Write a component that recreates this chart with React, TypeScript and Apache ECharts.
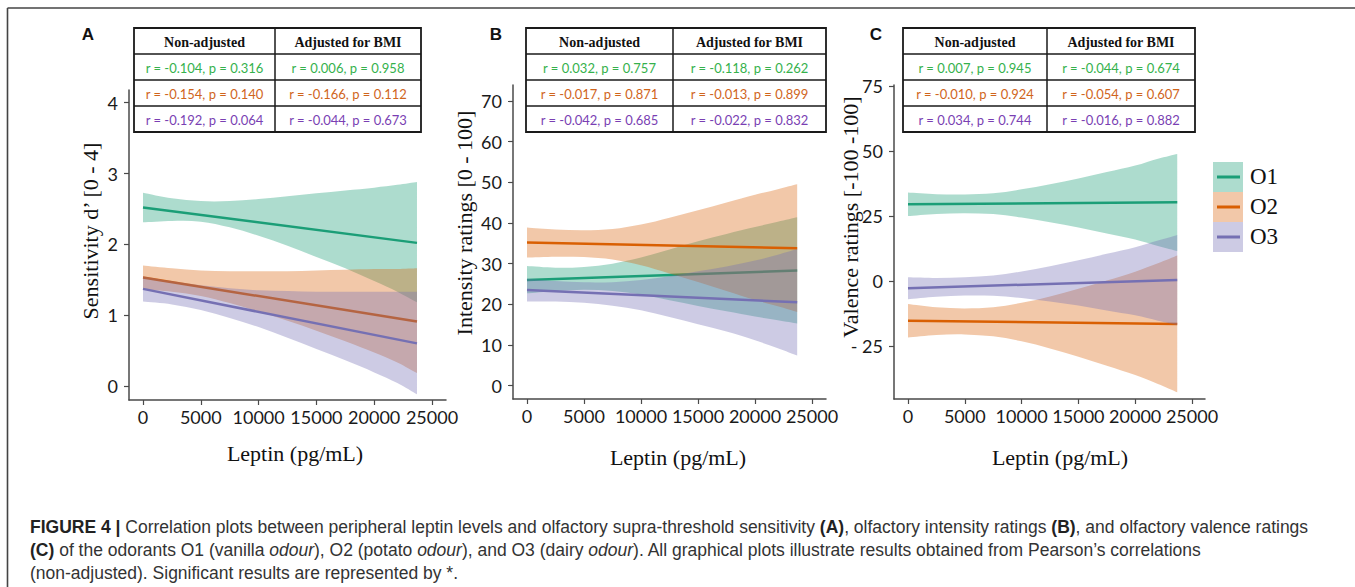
import { useEffect, useRef } from "react";
import * as echarts from "echarts";

// ---------- data ----------
const leptinX = [0, 2500, 5000, 7500, 10000, 12500, 15000, 17500, 20000, 22000, 23700];
const lineX = [0, 23700];
const xTicks = [0, 5000, 10000, 15000, 20000, 25000];

// Panel A – Sensitivity d'
const aO1Line = [2.52, 2.02];
const aO1Upper = [2.73, 2.65, 2.61, 2.61, 2.64, 2.68, 2.72, 2.76, 2.8, 2.84, 2.88];
const aO1Lower = [2.31, 2.33, 2.32, 2.24, 2.12, 1.98, 1.82, 1.66, 1.48, 1.33, 1.18];
const aO2Line = [1.53, 0.91];
const aO2Upper = [1.7, 1.66, 1.63, 1.62, 1.62, 1.62, 1.63, 1.64, 1.65, 1.65, 1.66];
const aO2Lower = [1.36, 1.33, 1.27, 1.17, 1.05, 0.92, 0.78, 0.63, 0.47, 0.33, 0.18];
const aO3Line = [1.37, 0.6];
const aO3Upper = [1.55, 1.48, 1.42, 1.38, 1.35, 1.34, 1.33, 1.33, 1.33, 1.33, 1.33];
const aO3Lower = [1.19, 1.15, 1.07, 0.96, 0.83, 0.68, 0.52, 0.36, 0.19, 0.04, -0.12];
const aYTicks = [0, 1, 2, 3, 4];

// Panel B – Intensity ratings
const bO1Line = [26.0, 28.3];
const bO1Upper = [29.4, 29.0, 29.2, 30.0, 31.5, 33.5, 35.5, 37.3, 39.0, 40.3, 41.4];
const bO1Lower = [22.7, 23.3, 23.6, 23.3, 22.4, 21.0, 19.6, 18.3, 17.0, 16.1, 15.3];
const bO2Line = [35.2, 33.8];
const bO2Upper = [38.9, 38.4, 38.2, 38.5, 39.6, 41.3, 43.1, 45.0, 46.9, 48.3, 49.5];
const bO2Lower = [31.5, 31.7, 31.6, 31.0, 29.6, 27.6, 25.5, 23.3, 21.1, 19.5, 18.1];
const bO3Line = [23.5, 20.5];
const bO3Upper = [26.3, 25.7, 25.4, 25.45, 25.95, 26.9, 28.1, 29.3, 30.75, 32.2, 33.6];
const bO3Lower = [20.7, 20.7, 20.4, 19.65, 18.55, 16.9, 15.1, 13.3, 11.15, 9.2, 7.4];
const bYTicks = [0, 10, 20, 30, 40, 50, 60, 70];

// Panel C – Valence ratings
const cO1Line = [29.5, 30.3];
const cO1Upper = [34.0, 33.4, 33.3, 33.75, 35.25, 37.2, 39.4, 41.9, 44.4, 47.05, 48.9];
const cO1Lower = [25.0, 25.8, 26.1, 25.75, 24.45, 22.6, 20.6, 18.3, 16.0, 13.45, 11.5];
const cO2Line = [-15.3, -16.5];
const cO2Upper = [-8.9, -10.15, -10.55, -10.1, -8.4, -5.95, -2.95, 0.2, 3.6, 6.8, 9.8];
const cO2Lower = [-21.7, -20.75, -20.55, -21.3, -23.2, -25.95, -29.15, -32.6, -36.2, -39.6, -42.8];
const cO3Line = [-2.8, 0.4];
const cO3Upper = [1.4, 1.15, 1.4, 2.1, 3.65, 5.7, 7.95, 10.45, 13.0, 15.55, 17.7];
const cO3Lower = [-7.0, -6.05, -5.6, -5.7, -6.55, -7.9, -9.45, -11.35, -13.2, -15.25, -16.9];
const cYTicks = [-25, 0, 25, 50, 75];

// Correlation tables
const tableHeaders = ["Non-adjusted", "Adjusted for BMI"];
const tableA = [
  ["r = -0.104, p = 0.316", "r = 0.006, p = 0.958"],
  ["r = -0.154, p = 0.140", "r = -0.166, p = 0.112"],
  ["r = -0.192, p = 0.064", "r = -0.044, p = 0.673"],
];
const tableB = [
  ["r = 0.032, p = 0.757", "r = -0.118, p = 0.262"],
  ["r = -0.017, p = 0.871", "r = -0.013, p = 0.899"],
  ["r = -0.042, p = 0.685", "r = -0.022, p = 0.832"],
];
const tableC = [
  ["r = 0.007, p = 0.945", "r = -0.044, p = 0.674"],
  ["r = -0.010, p = 0.924", "r = -0.054, p = 0.607"],
  ["r = 0.034, p = 0.744", "r = -0.016, p = 0.882"],
];
const legendNames = ["O1", "O2", "O3"];

// ---------- styles ----------
const lineColors = ["#1b9e77", "#d95f02", "#7570b3"];
const bandColors = ["rgba(27,158,119,0.36)", "rgba(217,95,2,0.34)", "rgba(117,112,179,0.36)"];
const tableTextColors = ["#35b14c", "#d0651c", "#7a3fb3"];
const axisColor = "#4a4a4a";
const tickFont = "Lato";
const serif = "'Liberation Serif', 'Times New Roman', serif";
const sans = "'Liberation Sans', Arial, sans-serif";

const grids = [
  { left: 129, top: 90, width: 317, height: 310, xMin: -1211, xMax: 26211, yMin: -0.2, yMax: 4.18, yTicks: aYTicks },
  { left: 513, top: 85, width: 313, height: 314, xMin: -1228, xMax: 26228, yMin: -3.27, yMax: 73.9, yTicks: bYTicks },
  { left: 894, top: 85, width: 311, height: 314, xMin: -1232, xMax: 26144, yMin: -45.4, yMax: 75.4, yTicks: cYTicks },
];

// smooth (Catmull-Rom) path through pixel points
function smoothPath(pts: number[][], move: boolean) {
  let d = (move ? "M" : "L") + pts[0][0].toFixed(2) + " " + pts[0][1].toFixed(2);
  for (let i = 0; i < pts.length - 1; i++) {
    const p0 = pts[Math.max(i - 1, 0)];
    const p1 = pts[i];
    const p2 = pts[i + 1];
    const p3 = pts[Math.min(i + 2, pts.length - 1)];
    const c1x = p1[0] + (p2[0] - p0[0]) / 6;
    const c1y = p1[1] + (p2[1] - p0[1]) / 6;
    const c2x = p2[0] - (p3[0] - p1[0]) / 6;
    const c2y = p2[1] - (p3[1] - p1[1]) / 6;
    d +=
      " C" + c1x.toFixed(2) + " " + c1y.toFixed(2) + " " + c2x.toFixed(2) + " " + c2y.toFixed(2) + " " + p2[0].toFixed(2) + " " + p2[1].toFixed(2);
  }
  return d;
}

function bandSeries(gi: number, lo: number[], hi: number[], fill: string, z: number) {
  const data = leptinX.map((x, i) => [x, lo[i], hi[i]]);
  return {
    type: "custom",
    xAxisIndex: gi,
    yAxisIndex: gi,
    z,
    silent: true,
    clip: false,
    encode: { x: 0, y: [1, 2] },
    data,
    renderItem: (params: any, api: any) => {
      if (params.dataIndex !== 0) return null;
      const up = data.map((d) => api.coord([d[0], d[2]]));
      const dn = data
        .slice()
        .reverse()
        .map((d) => api.coord([d[0], d[1]]));
      const pathData = smoothPath(up, true) + " " + smoothPath(dn, false) + " Z";
      return {
        type: "path",
        shape: { pathData },
        style: { fill, stroke: null },
      };
    },
  };
}

function lineSeries(gi: number, vals: number[], color: string, z: number) {
  return {
    type: "line",
    xAxisIndex: gi,
    yAxisIndex: gi,
    z,
    silent: true,
    symbol: "none",
    data: lineX.map((x, i) => [x, vals[i]]),
    lineStyle: { color, width: 2.5 },
    itemStyle: { color },
  };
}

function tableGraphics(x0: number, xm: number, x1: number, rows: string[][]) {
  const ys = [28, 54, 80, 106, 132];
  const els: any[] = [];
  els.push({
    type: "rect",
    shape: { x: x0, y: ys[0], width: x1 - x0, height: ys[4] - ys[0] },
    style: { fill: "#fff", stroke: "#1a1a1a", lineWidth: 1.8 },
    z: 50,
  });
  for (let i = 1; i < 4; i++) {
    els.push({
      type: "line",
      shape: { x1: x0, y1: ys[i], x2: x1, y2: ys[i] },
      style: { stroke: "#1a1a1a", lineWidth: 1.5 },
      z: 51,
    });
  }
  els.push({
    type: "line",
    shape: { x1: xm, y1: ys[0], x2: xm, y2: ys[4] },
    style: { stroke: "#1a1a1a", lineWidth: 1.5 },
    z: 51,
  });
  const cx = [(x0 + xm) / 2, (xm + x1) / 2];
  tableHeaders.forEach((h, j) => {
    els.push({
      type: "text",
      x: cx[j],
      y: (ys[0] + ys[1]) / 2 + 1,
      z: 52,
      style: {
        text: h,
        fill: "#111",
        fontFamily: serif,
        fontWeight: "bold",
        fontSize: 14,
        align: "center",
        verticalAlign: "middle",
        textAlign: "center",
        textVerticalAlign: "middle",
      },
    });
  });
  rows.forEach((row, i) => {
    row.forEach((t, j) => {
      els.push({
        type: "text",
        x: cx[j],
        y: (ys[i + 1] + ys[i + 2]) / 2 + 1,
        z: 52,
        style: {
          text: t,
          fill: tableTextColors[i],
          fontFamily: tickFont,
          fontSize: 13,
          align: "center",
          verticalAlign: "middle",
          textAlign: "center",
          textVerticalAlign: "middle",
        },
      });
    });
  });
  return els;
}

function textEl(text: string, x: number, y: number, style: any, rotation = 0) {
  return {
    type: "text",
    x,
    y,
    rotation,
    z: 60,
    style: {
      text,
      align: "center",
      verticalAlign: "middle",
      textAlign: "center",
      textVerticalAlign: "middle",
      ...style,
    },
  };
}

export default function App() {
  const ref = useRef<HTMLDivElement>(null);

  useEffect(() => {
    document.body.style.margin = "0";
    if (!ref.current) return;
    const chart = echarts.init(ref.current, null, { renderer: "svg" });

    const xAxes = grids.map((g, i) => ({
      type: "value",
      gridIndex: i,
      min: g.xMin,
      max: g.xMax,
      axisLine: { show: true, onZero: false, lineStyle: { color: axisColor, width: 1.5 } },
      axisTick: { show: true, length: 5, customValues: xTicks, lineStyle: { color: axisColor, width: 1.2 } },
      axisLabel: {
        show: true,
        customValues: xTicks,
        fontFamily: tickFont,
        fontSize: 18,
        color: "#1a1a1a",
        margin: 8,
        formatter: (v: number) => String(v),
      },
      splitLine: { show: false },
    }));
    const yAxes = grids.map((g, i) => ({
      type: "value",
      gridIndex: i,
      min: g.yMin,
      max: g.yMax,
      axisLine: { show: true, onZero: false, lineStyle: { color: axisColor, width: 1.5 } },
      axisTick: { show: true, length: 5, customValues: g.yTicks, lineStyle: { color: axisColor, width: 1.2 } },
      axisLabel: {
        show: true,
        customValues: g.yTicks,
        fontFamily: tickFont,
        fontSize: 18,
        color: "#1a1a1a",
        margin: 11,
        formatter: (v: number) => (v < 0 ? "- " + Math.abs(v) : String(v)),
      },
      splitLine: { show: false },
    }));

    const panels = [
      { lines: [aO1Line, aO2Line, aO3Line], up: [aO1Upper, aO2Upper, aO3Upper], lo: [aO1Lower, aO2Lower, aO3Lower] },
      { lines: [bO1Line, bO2Line, bO3Line], up: [bO1Upper, bO2Upper, bO3Upper], lo: [bO1Lower, bO2Lower, bO3Lower] },
      { lines: [cO1Line, cO2Line, cO3Line], up: [cO1Upper, cO2Upper, cO3Upper], lo: [cO1Lower, cO2Lower, cO3Lower] },
    ];
    const series: any[] = [];
    panels.forEach((p, gi) => {
      for (let k = 0; k < 3; k++) {
        series.push(bandSeries(gi, p.lo[k], p.up[k], bandColors[k], 2 + k * 2));
        series.push(lineSeries(gi, p.lines[k], lineColors[k], 3 + k * 2));
      }
    });

    const titleStyle = { fontFamily: serif, fontSize: 22, fill: "#111" };
    const letterStyle = { fontFamily: sans, fontWeight: "bold", fontSize: 17, fill: "#111" };
    const capSize = 17.5;
    const capStyle = {
      fontFamily: sans,
      fontSize: capSize,
      fill: "#333",
      align: "left",
      textAlign: "left",
      rich: {
        b: { fontFamily: sans, fontSize: capSize, fontWeight: "bold", fill: "#222", color: "#222" },
        i: { fontFamily: sans, fontSize: capSize, fontStyle: "italic", fill: "#333", color: "#333" },
      },
    };

    const legendEls: any[] = [];
    legendNames.forEach((n, k) => {
      const y0 = 162 + k * 30;
      legendEls.push({
        type: "rect",
        shape: { x: 1213, y: y0, width: 30, height: 30 },
        style: { fill: bandColors[k], stroke: null },
        z: 40,
      });
      legendEls.push({
        type: "line",
        shape: { x1: 1217, y1: y0 + 15, x2: 1240, y2: y0 + 15 },
        style: { stroke: lineColors[k], lineWidth: 3 },
        z: 41,
      });
      legendEls.push(textEl(n, 1250, y0 + 14, { ...titleStyle, fontSize: 23, align: "left", textAlign: "left" }));
    });

    const graphic: any[] = [
      // frame
      { type: "line", shape: { x1: 7.5, y1: 8, x2: 1355, y2: 8 }, style: { stroke: "#444", lineWidth: 1.6 }, z: 70 },
      { type: "line", shape: { x1: 7.5, y1: 8, x2: 7.5, y2: 587 }, style: { stroke: "#444", lineWidth: 1.6 }, z: 70 },
      // panel letters
      textEl("A", 88, 34, letterStyle),
      textEl("B", 496, 34, letterStyle),
      textEl("C", 876, 34, letterStyle),
      // axis titles
      textEl("Sensitivity d’ [0 - 4]", 90, 231, titleStyle, Math.PI / 2),
      textEl("Intensity ratings [0 - 100]", 464, 223, titleStyle, Math.PI / 2),
      textEl("Valence ratings [-100 -100]", 850, 217, titleStyle, Math.PI / 2),
      textEl("Leptin (pg/mL)", 295, 453, titleStyle),
      textEl("Leptin (pg/mL)", 678, 457, titleStyle),
      textEl("Leptin (pg/mL)", 1060, 457, titleStyle),
      ...tableGraphics(134, 275, 421, tableA),
      ...tableGraphics(526, 673, 826, tableB),
      ...tableGraphics(903, 1047, 1195, tableC),
      ...legendEls,
      textEl(
        "{b|FIGURE 4 |} Correlation plots between peripheral leptin levels and olfactory supra-threshold sensitivity {b|(A)}, olfactory intensity ratings {b|(B)}, and olfactory valence ratings",
        30,
        527,
        capStyle
      ),
      textEl(
        "{b|(C)} of the odorants O1 (vanilla {i|odour}), O2 (potato {i|odour}), and O3 (dairy {i|odour}). All graphical plots illustrate results obtained from Pearson’s correlations",
        30,
        550,
        capStyle
      ),
      textEl("(non-adjusted). Significant results are represented by *.", 30, 573, capStyle),
    ];

    chart.setOption({
      animation: false,
      backgroundColor: "#fff",
      grid: grids.map((g) => ({ left: g.left, top: g.top, width: g.width, height: g.height, containLabel: false })),
      xAxis: xAxes,
      yAxis: yAxes,
      series,
      graphic,
    });

    return () => chart.dispose();
  }, []);

  return <div ref={ref} style={{ width: 1355, height: 587 }} />;
}
